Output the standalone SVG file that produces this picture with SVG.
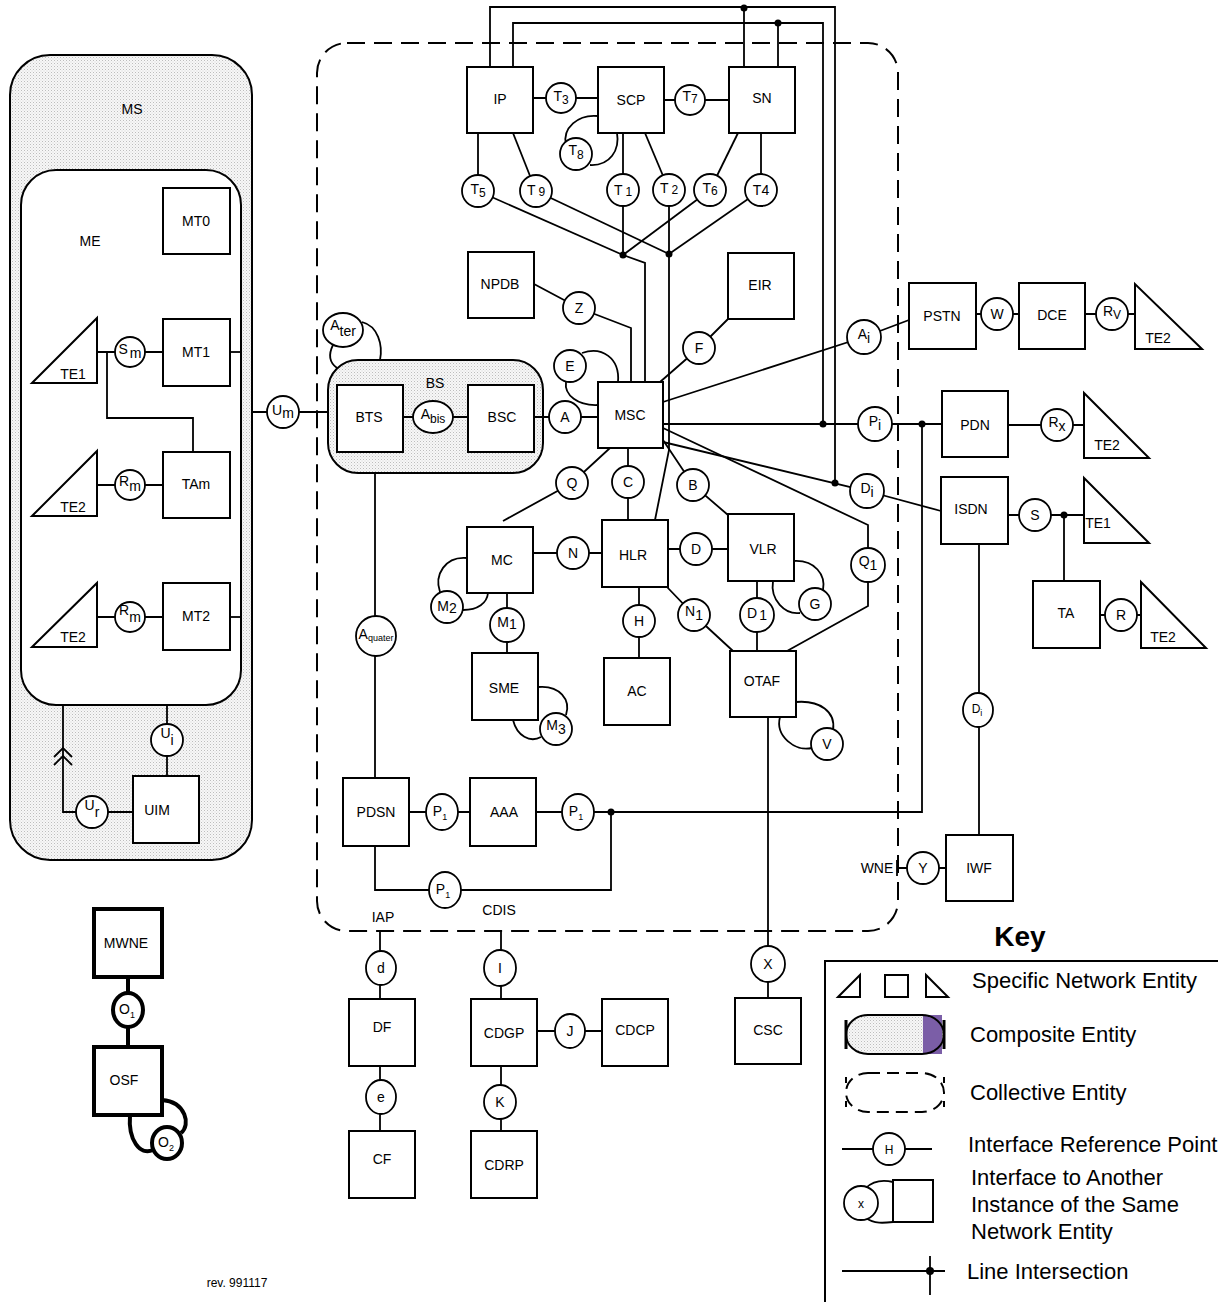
<svg xmlns="http://www.w3.org/2000/svg" width="1218" height="1302" viewBox="0 0 1218 1302">
<defs>
<pattern id="dots" width="3" height="3" patternUnits="userSpaceOnUse">
<rect width="3" height="3" fill="#f7f7f7"/>
<rect width="1" height="1" fill="#bdbdbd"/>
<rect x="1.5" y="1.5" width="1" height="1" fill="#d4d4d4"/>
</pattern>
<style>
.b{fill:#fff;stroke:#000;stroke-width:2}
.bt{fill:#fff;stroke:#000;stroke-width:4}
.l{fill:none;stroke:#000;stroke-width:1.8}
.lt{fill:none;stroke:#000;stroke-width:4}
.c{fill:#fff;stroke:#000;stroke-width:1.8}
.ct{fill:#fff;stroke:#000;stroke-width:4}
.dash{fill:none;stroke:#000;stroke-width:2;stroke-dasharray:18 9}
.dot{fill:#000}
text{font-family:"Liberation Sans",Arial,sans-serif;font-size:14px;text-anchor:middle;fill:#000}
.s{font-size:12px}
.ss{font-size:9px}
.k{font-size:22px;text-anchor:start}
</style>
</defs>
<rect width="1218" height="1302" fill="#fff"/>

<g id="containers">
<g id="MS"><rect x="10" y="55" width="242" height="805" rx="40" fill="url(#dots)" stroke="#000" stroke-width="2"/><text x="132" y="114">MS</text></g>
<g id="ME"><rect x="21" y="170" width="220" height="535" rx="35" class="b"/><text x="90" y="246">ME</text></g>
<g id="collective"><rect x="317" y="43" width="581" height="888" rx="30" class="dash"/></g>
<g id="BS"><rect x="328" y="360" width="215" height="113" rx="30" fill="url(#dots)" stroke="#000" stroke-width="2"/><text x="435" y="388">BS</text></g>
</g>

<g id="connectors">
<polyline class="l" points="490,67 490,7 835,7 835,483"/>
<polyline class="l" points="513,67 513,23 823,23 823,424"/>
<line class="l" x1="744" y1="8" x2="744" y2="67"/>
<line class="l" x1="778" y1="23" x2="778" y2="67"/>
<line class="l" x1="533" y1="98" x2="598" y2="98"/>
<line class="l" x1="664" y1="100" x2="729" y2="100"/>
<path class="l" d="M598,116 C578,114 562,128 566,145"/>
<path class="l" d="M590,165 C610,166 620,150 617,133"/>
<line class="l" x1="478" y1="133" x2="478" y2="191"/>
<line class="l" x1="513" y1="133" x2="536" y2="191"/>
<line class="l" x1="623" y1="133" x2="623" y2="255"/>
<line class="l" x1="645" y1="133" x2="669" y2="190"/>
<line class="l" x1="738" y1="133" x2="710" y2="190"/>
<line class="l" x1="761" y1="133" x2="761" y2="190"/>
<line class="l" x1="478" y1="191" x2="623" y2="255"/>
<line class="l" x1="536" y1="191" x2="669" y2="254"/>
<line class="l" x1="710" y1="190" x2="623" y2="255"/>
<line class="l" x1="761" y1="190" x2="669" y2="254"/>
<polyline class="l" points="669,190 669,450 655,520"/>
<polyline class="l" points="623,255 645,263 645,382"/>
<polyline class="l" points="534,284 579,308 631,328 631,382"/>
<polyline class="l" points="728,319 699,348 660,382"/>
<path class="l" d="M598,405 C578,406 564,395 566,382"/>
<path class="l" d="M582,353 C602,346 620,358 618,382"/>
<line class="l" x1="403" y1="417" x2="468" y2="417"/>
<line class="l" x1="534" y1="417" x2="598" y2="417"/>
<path class="l" d="M362,322 C378,326 383,345 380,360"/>
<path class="l" d="M333,345 C328,355 330,363 337,368"/>
<line class="l" x1="252" y1="412" x2="328" y2="412"/>
<polyline class="l" points="663,402 864,337 909,320"/>
<line class="l" x1="663" y1="424" x2="942" y2="424"/>
<polyline class="l" points="663,442 867,491 941,511"/>
<polyline class="l" points="663,428 868,525 868,606 787,651"/>
<polyline class="l" points="610,448 572,483 503,521"/>
<line class="l" x1="628" y1="448" x2="628" y2="520"/>
<polyline class="l" points="663,440 693,485 728,515"/>
<line class="l" x1="533" y1="553" x2="602" y2="553"/>
<line class="l" x1="668" y1="549" x2="728" y2="549"/>
<path class="l" d="M467,558 C445,556 434,575 440,592"/>
<path class="l" d="M463,610 C478,610 487,603 488,593"/>
<line class="l" x1="507" y1="593" x2="507" y2="653"/>
<path class="l" d="M538,687 C560,685 571,700 566,715"/>
<path class="l" d="M513,720 C517,736 530,743 541,737"/>
<line class="l" x1="639" y1="587" x2="639" y2="658"/>
<polyline class="l" points="667,587 694,615 733,651"/>
<line class="l" x1="757" y1="581" x2="757" y2="651"/>
<path class="l" d="M794,561 C815,560 826,575 823,590"/>
<path class="l" d="M773,581 C770,600 785,615 800,613"/>
<path class="l" d="M796,702 C820,700 836,712 833,730"/>
<path class="l" d="M780,717 C775,736 795,752 812,748"/>
<line class="l" x1="768" y1="717" x2="768" y2="998"/>
<line class="l" x1="375" y1="473" x2="375" y2="778"/>
<line class="l" x1="409" y1="812" x2="470" y2="812"/>
<polyline class="l" points="536,812 922,812 922,424"/>
<polyline class="l" points="375,846 375,890 611,890 611,812"/>
<line class="l" x1="976" y1="314" x2="1019" y2="314"/>
<line class="l" x1="1085" y1="314" x2="1135" y2="314"/>
<line class="l" x1="1008" y1="425" x2="1084" y2="425"/>
<line class="l" x1="1008" y1="515" x2="1084" y2="515"/>
<line class="l" x1="1064" y1="515" x2="1064" y2="581"/>
<line class="l" x1="1100" y1="615" x2="1141" y2="615"/>
<line class="l" x1="979" y1="544" x2="979" y2="835"/>
<line class="l" x1="897" y1="868" x2="946" y2="868"/>
<line class="l" x1="897" y1="860" x2="897" y2="876"/>
<line class="l" x1="380" y1="931" x2="380" y2="1131"/>
<line class="l" x1="501" y1="931" x2="501" y2="1131"/>
<line class="l" x1="537" y1="1031" x2="602" y2="1031"/>
<line class="l" x1="97" y1="352" x2="163" y2="352"/>
<polyline class="l" points="107,352 107,418 193,418 193,452"/>
<line class="l" x1="230" y1="352" x2="241" y2="352"/>
<line class="l" x1="97" y1="485" x2="163" y2="485"/>
<line class="l" x1="97" y1="617" x2="163" y2="617"/>
<line class="l" x1="230" y1="617" x2="241" y2="617"/>
<polyline class="l" points="63,705 63,812 133,812"/>
<polyline class="l" points="54,757 63,748 72,757"/>
<polyline class="l" points="54,765 63,756 72,765"/>
<line class="l" x1="167" y1="705" x2="167" y2="776"/>
<line class="lt" x1="128" y1="977" x2="128" y2="1047"/>
<path class="lt" d="M162,1100 C186,1102 191,1125 181,1133"/>
<path class="lt" d="M130,1115 C128,1140 140,1156 153,1150"/>
<circle class="dot" cx="744" cy="8" r="3.5"/>
<circle class="dot" cx="778" cy="23" r="3.5"/>
<circle class="dot" cx="623" cy="255" r="3.5"/>
<circle class="dot" cx="669" cy="254" r="3.5"/>
<circle class="dot" cx="823" cy="424" r="3.5"/>
<circle class="dot" cx="835" cy="483" r="3.5"/>
<circle class="dot" cx="922" cy="424" r="3.5"/>
<circle class="dot" cx="611" cy="812" r="3.5"/>
<circle class="dot" cx="1064" cy="515" r="3.5"/>
</g>

<g id="nodes">
<g id="IP"><rect class="b" x="467" y="67" width="66" height="66"/><text x="500" y="104">IP</text></g>
<g id="SCP"><rect class="b" x="598" y="67" width="66" height="66"/><text x="631" y="105">SCP</text></g>
<g id="SN"><rect class="b" x="729" y="67" width="66" height="66"/><text x="762" y="103">SN</text></g>
<g id="NPDB"><rect class="b" x="468" y="252" width="66" height="66"/><text x="500" y="289">NPDB</text></g>
<g id="EIR"><rect class="b" x="728" y="253" width="66" height="66"/><text x="760" y="290">EIR</text></g>
<g id="MSC"><rect class="b" x="598" y="382" width="65" height="66"/><text x="630" y="420">MSC</text></g>
<g id="BTS"><rect class="b" x="337" y="385" width="66" height="67"/><text x="369" y="422">BTS</text></g>
<g id="BSC"><rect class="b" x="468" y="385" width="66" height="67"/><text x="502" y="422">BSC</text></g>
<g id="MC"><rect class="b" x="467" y="527" width="66" height="66"/><text x="502" y="565">MC</text></g>
<g id="HLR"><rect class="b" x="602" y="520" width="66" height="67"/><text x="633" y="560">HLR</text></g>
<g id="VLR"><rect class="b" x="728" y="514" width="66" height="67"/><text x="763" y="554">VLR</text></g>
<g id="SME"><rect class="b" x="472" y="653" width="66" height="67"/><text x="504" y="693">SME</text></g>
<g id="AC"><rect class="b" x="604" y="658" width="66" height="67"/><text x="637" y="696">AC</text></g>
<g id="OTAF"><rect class="b" x="730" y="651" width="66" height="66"/><text x="762" y="686">OTAF</text></g>
<g id="PDSN"><rect class="b" x="343" y="778" width="66" height="68"/><text x="376" y="817">PDSN</text></g>
<g id="AAA"><rect class="b" x="470" y="778" width="66" height="68"/><text x="504" y="817">AAA</text></g>
<g id="PSTN"><rect class="b" x="909" y="283" width="67" height="66"/><text x="942" y="321">PSTN</text></g>
<g id="DCE"><rect class="b" x="1019" y="283" width="66" height="66"/><text x="1052" y="320">DCE</text></g>
<g id="PDN"><rect class="b" x="942" y="391" width="66" height="66"/><text x="975" y="430">PDN</text></g>
<g id="ISDN"><rect class="b" x="941" y="477" width="67" height="67"/><text x="971" y="514">ISDN</text></g>
<g id="TA"><rect class="b" x="1033" y="581" width="67" height="67"/><text x="1066" y="618">TA</text></g>
<g id="IWF"><rect class="b" x="946" y="835" width="67" height="66"/><text x="979" y="873">IWF</text></g>
<g id="MT0"><rect class="b" x="163" y="188" width="67" height="66"/><text x="196" y="226">MT0</text></g>
<g id="MT1"><rect class="b" x="163" y="319" width="67" height="67"/><text x="196" y="357">MT1</text></g>
<g id="TAm"><rect class="b" x="163" y="452" width="67" height="66"/><text x="196" y="489">TAm</text></g>
<g id="MT2"><rect class="b" x="163" y="583" width="67" height="67"/><text x="196" y="621">MT2</text></g>
<g id="UIM"><rect class="b" x="133" y="776" width="66" height="67"/><text x="157" y="815">UIM</text></g>
<g id="DF"><rect class="b" x="349" y="999" width="66" height="67"/><text x="382" y="1032">DF</text></g>
<g id="CF"><rect class="b" x="349" y="1131" width="66" height="67"/><text x="382" y="1164">CF</text></g>
<g id="CDGP"><rect class="b" x="471" y="999" width="66" height="67"/><text x="504" y="1038">CDGP</text></g>
<g id="CDCP"><rect class="b" x="602" y="999" width="66" height="67"/><text x="635" y="1035">CDCP</text></g>
<g id="CDRP"><rect class="b" x="471" y="1131" width="66" height="67"/><text x="504" y="1170">CDRP</text></g>
<g id="CSC"><rect class="b" x="735" y="998" width="66" height="66"/><text x="768" y="1035">CSC</text></g>
<g id="MWNE"><rect class="bt" x="94" y="909" width="68" height="68"/><text x="126" y="948">MWNE</text></g>
<g id="OSF"><rect class="bt" x="94" y="1047" width="68" height="68"/><text x="124" y="1085">OSF</text></g>

<g id="TE1-ms"><polygon class="b" points="32,383 97,318 97,383"/><text x="73" y="379">TE1</text></g>
<g id="TE2-ms1"><polygon class="b" points="32,516 97,451 97,516"/><text x="73" y="512">TE2</text></g>
<g id="TE2-ms2"><polygon class="b" points="32,647 97,583 97,647"/><text x="73" y="642">TE2</text></g>
<g id="TE2-dce"><polygon class="b" points="1135,284 1135,349 1202,349"/><text x="1158" y="343">TE2</text></g>
<g id="TE2-pdn"><polygon class="b" points="1084,393 1084,458 1149,458"/><text x="1107" y="450">TE2</text></g>
<g id="TE1-isdn"><polygon class="b" points="1084,478 1084,543 1149,543"/><text x="1098" y="528">TE1</text></g>
<g id="TE2-ta"><polygon class="b" points="1141,582 1141,648 1206,648"/><text x="1163" y="642">TE2</text></g>

<g id="T3"><circle class="c" cx="561" cy="98" r="15"/><text x="561" y="101">T<tspan class="s" dy="3">3</tspan></text></g>
<g id="T7"><circle class="c" cx="690" cy="100" r="15"/><text x="690" y="101">T<tspan class="s" dy="2">7</tspan></text></g>
<g id="T8"><circle class="c" cx="576" cy="154" r="16"/><text x="576" y="155">T<tspan class="s" dy="4">8</tspan></text></g>
<g id="T5"><circle class="c" cx="478" cy="191" r="16"/><text x="478" y="194">T<tspan class="s" dy="3">5</tspan></text></g>
<g id="T9"><circle class="c" cx="536" cy="191" r="16"/><text x="536" y="195">T<tspan class="s" dx="3" dy="1">9</tspan></text></g>
<g id="T1"><circle class="c" cx="623" cy="190" r="16"/><text x="623" y="195">T<tspan class="s" dx="3" dy="1">1</tspan></text></g>
<g id="T2"><circle class="c" cx="669" cy="190" r="16"/><text x="669" y="193">T<tspan class="s" dx="3" dy="1">2</tspan></text></g>
<g id="T6"><circle class="c" cx="710" cy="190" r="16"/><text x="710" y="193">T<tspan class="s" dy="2">6</tspan></text></g>
<g id="T4"><circle class="c" cx="761" cy="190" r="16"/><text x="761" y="195">T4</text></g>
<g id="Z"><circle class="c" cx="579" cy="308" r="16"/><text x="579" y="313">Z</text></g>
<g id="F"><circle class="c" cx="699" cy="348" r="16"/><text x="699" y="353">F</text></g>
<g id="E"><circle class="c" cx="570" cy="366" r="16"/><text x="570" y="371">E</text></g>
<g id="Ater"><ellipse class="c" cx="343" cy="330" rx="20" ry="17"/><text x="343" y="330">A<tspan dy="6">ter</tspan></text></g>
<g id="Abis"><ellipse class="c" cx="433" cy="417" rx="20" ry="16"/><text x="433" y="419">A<tspan class="s" dy="4">bis</tspan></text></g>
<g id="A"><circle class="c" cx="565" cy="417" r="16"/><text x="565" y="422">A</text></g>
<g id="Ai"><circle class="c" cx="864" cy="337" r="17"/><text x="864" y="339">A<tspan dy="4">i</tspan></text></g>
<g id="Pi"><circle class="c" cx="875" cy="424" r="17"/><text x="875" y="426">P<tspan dy="4">i</tspan></text></g>
<g id="Di"><circle class="c" cx="867" cy="491" r="17"/><text x="867" y="493">D<tspan dy="4">i</tspan></text></g>
<g id="Q"><circle class="c" cx="572" cy="483" r="16"/><text x="572" y="488">Q</text></g>
<g id="C"><circle class="c" cx="628" cy="482" r="16"/><text x="628" y="487">C</text></g>
<g id="B"><circle class="c" cx="693" cy="485" r="16"/><text x="693" y="490">B</text></g>
<g id="N"><circle class="c" cx="573" cy="553" r="16"/><text x="573" y="558">N</text></g>
<g id="D"><circle class="c" cx="696" cy="549" r="16"/><text x="696" y="554">D</text></g>
<g id="Q1"><circle class="c" cx="868" cy="565" r="17"/><text x="868" y="566">Q<tspan dy="4">1</tspan></text></g>
<g id="M2"><circle class="c" cx="447" cy="607" r="16"/><text x="447" y="611">M<tspan dy="2">2</tspan></text></g>
<g id="M1"><circle class="c" cx="507" cy="625" r="17"/><text x="507" y="627">M<tspan dy="2">1</tspan></text></g>
<g id="N1"><circle class="c" cx="694" cy="615" r="16"/><text x="694" y="616">N<tspan dy="4">1</tspan></text></g>
<g id="D1"><circle class="c" cx="757" cy="615" r="17"/><text x="757" y="618">D<tspan dx="2" dy="2">1</tspan></text></g>
<g id="G"><circle class="c" cx="815" cy="604" r="16"/><text x="815" y="609">G</text></g>
<g id="H"><circle class="c" cx="639" cy="621" r="16"/><text x="639" y="626">H</text></g>
<g id="M3"><circle class="c" cx="556" cy="729" r="16"/><text x="556" y="730">M<tspan dy="4">3</tspan></text></g>
<g id="V"><circle class="c" cx="827" cy="744" r="16"/><text x="827" y="749">V</text></g>
<g id="Aquater"><circle class="c" cx="376" cy="636" r="20"/><text x="376" y="639">A<tspan class="ss" dy="2">quater</tspan></text></g>
<g id="P1-a"><ellipse class="c" cx="442" cy="812" rx="16" ry="18"/><text x="440" y="816">P<tspan class="ss" dy="4">1</tspan></text></g>
<g id="P1-b"><ellipse class="c" cx="578" cy="812" rx="16" ry="18"/><text x="576" y="816">P<tspan class="ss" dy="4">1</tspan></text></g>
<g id="P1-c"><ellipse class="c" cx="445" cy="890" rx="16" ry="18"/><text x="443" y="894">P<tspan class="ss" dy="4">1</tspan></text></g>
<g id="d"><ellipse class="c" cx="381" cy="968" rx="15" ry="17"/><text x="381" y="973">d</text></g>
<g id="I"><ellipse class="c" cx="500" cy="968" rx="16" ry="18"/><text x="500" y="973">I</text></g>
<g id="X"><ellipse class="c" cx="768" cy="964" rx="17" ry="18"/><text x="768" y="969">X</text></g>
<g id="e"><ellipse class="c" cx="381" cy="1097" rx="15" ry="17"/><text x="381" y="1102">e</text></g>
<g id="J"><ellipse class="c" cx="570" cy="1031" rx="15" ry="17"/><text x="570" y="1036">J</text></g>
<g id="K"><ellipse class="c" cx="500" cy="1102" rx="16" ry="17"/><text x="500" y="1107">K</text></g>
<g id="Y"><circle class="c" cx="923" cy="868" r="16"/><text x="923" y="873">Y</text></g>
<g id="Di-iwf"><ellipse class="c" cx="978" cy="710" rx="15" ry="17"/><text x="977" y="713" class="s">D<tspan class="ss" dy="3">i</tspan></text></g>
<g id="W"><circle class="c" cx="997" cy="314" r="16"/><text x="997" y="319">W</text></g>
<g id="Rv"><circle class="c" cx="1112" cy="314" r="16"/><text x="1112" y="316">R<tspan class="s" dy="3">V</tspan></text></g>
<g id="Rx"><circle class="c" cx="1057" cy="425" r="16"/><text x="1057" y="427">R<tspan dy="4">x</tspan></text></g>
<g id="S"><circle class="c" cx="1035" cy="515" r="16"/><text x="1035" y="520">S</text></g>
<g id="R"><circle class="c" cx="1121" cy="615" r="16"/><text x="1121" y="620">R</text></g>
<g id="Um"><circle class="c" cx="283" cy="412" r="16"/><text x="283" y="415">U<tspan dy="3">m</tspan></text></g>
<g id="Sm"><circle class="c" cx="130" cy="352" r="15"/><text x="130" y="354">S<tspan dx="2" dy="4">m</tspan></text></g>
<g id="Rm1"><circle class="c" cx="130" cy="485" r="15"/><text x="130" y="486">R<tspan dy="5">m</tspan></text></g>
<g id="Rm2"><circle class="c" cx="130" cy="617" r="15"/><text x="130" y="615">R<tspan dy="7">m</tspan></text></g>
<g id="Ui"><circle class="c" cx="167" cy="740" r="16"/><text x="167" y="738">U<tspan dy="7">i</tspan></text></g>
<g id="Ur"><circle class="c" cx="92" cy="812" r="16"/><text x="92" y="810">U<tspan dy="7">r</tspan></text></g>
<g id="O1"><ellipse class="ct" cx="128" cy="1010" rx="15" ry="17"/><text x="127" y="1014">O<tspan class="ss" dy="4">1</tspan></text></g>
<g id="O2"><ellipse class="ct" cx="167" cy="1143" rx="15" ry="16"/><text x="166" y="1147">O<tspan class="ss" dy="4">2</tspan></text></g>
</g>

<g id="labels">
<text x="383" y="922">IAP</text>
<text x="499" y="915">CDIS</text>
<text x="877" y="873">WNE</text>
<text x="237" y="1287" class="s">rev. 991117</text>
</g>

<g id="key">
<text x="1020" y="946" style="font-size:28px;font-weight:bold">Key</text>
<rect x="825" y="961" width="400" height="345" fill="none" stroke="#000" stroke-width="2"/>
<polygon class="b" points="838,997 860,975 860,997"/>
<rect class="b" x="885" y="975" width="23" height="22"/>
<polygon class="b" points="926,975 926,997 948,997"/>
<text class="k" x="972" y="988">Specific Network Entity</text>
<path d="M868,1015 H922 A22,19.5 0 0 1 922,1054 H868 A22,19.5 0 0 1 868,1015 Z" fill="url(#dots)"/>
<rect x="923" y="1015" width="19" height="39" fill="#7b5ea7"/>
<path d="M868,1015 H922 A22,19.5 0 0 1 922,1054 H868 A22,19.5 0 0 1 868,1015 Z" fill="none" stroke="#000" stroke-width="2"/>
<line x1="846" y1="1020" x2="846" y2="1049" stroke="#000" stroke-width="3"/>
<line x1="944" y1="1020" x2="944" y2="1049" stroke="#000" stroke-width="3"/>
<text class="k" x="970" y="1042">Composite Entity</text>
<path d="M868,1073 H922 A22,19.5 0 0 1 922,1112 H868 A22,19.5 0 0 1 868,1073 Z" fill="none" stroke="#000" stroke-width="2" stroke-dasharray="12 7"/>
<line x1="846" y1="1077" x2="846" y2="1108" stroke="#000" stroke-width="2" stroke-dasharray="6 18"/>
<line x1="944" y1="1077" x2="944" y2="1108" stroke="#000" stroke-width="2" stroke-dasharray="6 18"/>
<text class="k" x="970" y="1100">Collective Entity</text>
<line class="l" x1="842" y1="1149" x2="932" y2="1149"/>
<circle class="c" cx="889" cy="1149" r="16"/><text x="889" y="1154" class="s">H</text>
<text class="k" x="968" y="1152">Interface Reference Point</text>
<path class="l" d="M866,1188 C874,1180 884,1180 893,1182"/>
<path class="l" d="M866,1218 C874,1224 884,1223 893,1222"/>
<rect class="b" x="893" y="1180" width="40" height="42"/>
<circle class="c" cx="861" cy="1203" r="17"/><text x="861" y="1208" class="s">x</text>
<text class="k" x="971" y="1185">Interface to Another</text>
<text class="k" x="971" y="1212">Instance of the Same</text>
<text class="k" x="971" y="1239">Network Entity</text>
<line class="l" x1="842" y1="1271" x2="945" y2="1271"/>
<line class="l" x1="930" y1="1256" x2="930" y2="1295"/>
<circle class="dot" cx="930" cy="1271" r="4"/>
<text class="k" x="967" y="1279">Line Intersection</text>
</g>
</svg>
